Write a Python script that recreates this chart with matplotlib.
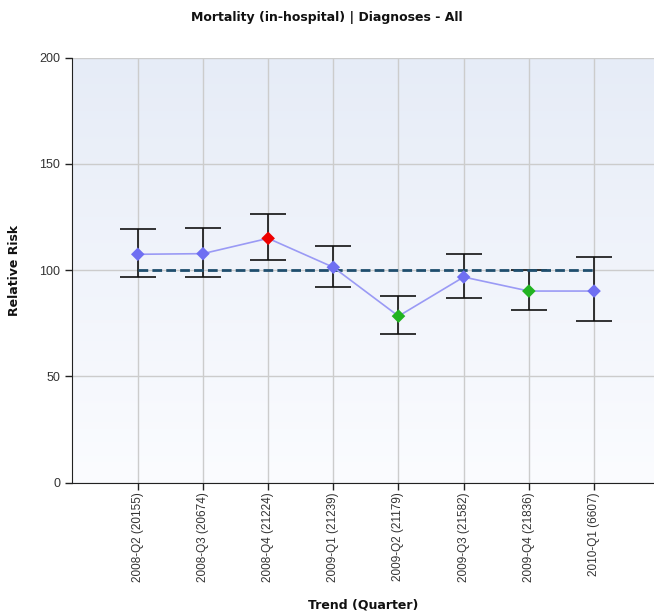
import numpy as np
import matplotlib.pyplot as plt

# quarterly relative risk with confidence limits
quarters = ['2008-Q2 (20155)', '2008-Q3 (20674)', '2008-Q4 (21224)', '2009-Q1 (21239)',
            '2009-Q2 (21179)', '2009-Q3 (21582)', '2009-Q4 (21836)', '2010-Q1 (6607)']
risk = [107.4, 107.7, 114.9, 101.3, 78.3, 96.7, 90.1, 90.1]
upper = [119.2, 119.7, 126.4, 111.5, 87.9, 107.4, 99.8, 106.3]
lower = [96.7, 96.7, 104.9, 92.0, 70.0, 86.9, 81.3, 76.1]
status = ['avg', 'avg', 'high', 'avg', 'low', 'avg', 'low', 'avg']
reference = 100

status_colors = {'avg': '#6f6ff2', 'high': '#ee0000', 'low': '#22b322'}

fig = plt.figure(figsize=(6.54, 6.15), dpi=100)
ax = fig.add_axes([0.110, 0.2154, 0.890, 0.6911])

x = np.arange(len(quarters))
ax.set_xlim(-1.01, 7.92)
ax.set_ylim(0, 200)

# background gradient, light blue at top to white at bottom
grad = np.linspace(0, 1, 256).reshape(-1, 1)
ax.imshow(grad, extent=[-1.01, 7.92, 0, 200], aspect='auto', origin='lower',
          cmap=plt.matplotlib.colors.LinearSegmentedColormap.from_list('bg', ['#fbfcff', '#e6ecf7']),
          zorder=0)

ax.set_xticks(x)
ax.set_xticklabels(quarters, rotation=90, fontsize=8.5, color='#333333', family='Liberation Sans')
ax.set_yticks([0, 50, 100, 150, 200])
ax.set_yticklabels(['0', '50', '100', '150', '200'], fontsize=9, color='#333333', family='Liberation Sans')
ax.grid(True, color='#cccccc', linewidth=1, zorder=1)
ax.tick_params(axis='both', direction='out', length=5, width=1, color='#222222')
ax.tick_params(axis='x', pad=2)

for side in ['top', 'right']:
    ax.spines[side].set_visible(False)
ax.spines['left'].set_color('#222222')
ax.spines['bottom'].set_color('#222222')

# error bars
yerr = [np.array(risk) - np.array(lower), np.array(upper) - np.array(risk)]
ax.errorbar(x, risk, yerr=yerr, fmt='none', ecolor='#111111', elinewidth=1.2,
            capsize=13, capthick=1.2, zorder=3)

# reference line
ax.plot([x[0], x[-1]], [reference, reference], color='#1f4e6e', linewidth=2,
        linestyle=(0, (3.5, 1.5)), zorder=4)

# trend line and markers
ax.plot(x, risk, color='#9a9af5', linewidth=1.2, zorder=5)
ax.scatter(x, risk, marker='D', s=48, c=[status_colors[s] for s in status],
           edgecolors='none', zorder=6)

fig.suptitle('Mortality (in-hospital) | Diagnoses - All', y=0.982, fontsize=9,
             fontweight='bold', color='#111111')
ax.set_xlabel('Trend (Quarter)', fontsize=9, fontweight='bold', color='#111111', labelpad=12)
ax.set_ylabel('Relative Risk', fontsize=9, fontweight='bold', color='#111111', labelpad=13)

fig.savefig('out.png', dpi=100)
